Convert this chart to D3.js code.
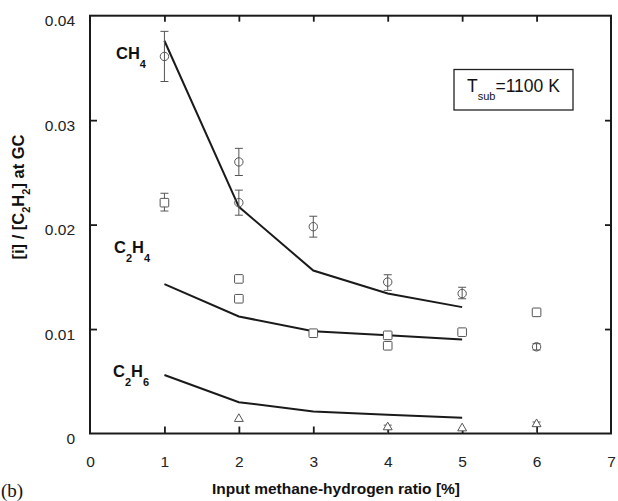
<!DOCTYPE html>
<html>
<head>
<meta charset="utf-8">
<script src="https://cdn.jsdelivr.net/npm/d3@7"></script>
<style>
  html, body { margin: 0; padding: 0; background: #fff; }
  svg { display: block; font-family: Arial, "Liberation Sans", Helvetica, sans-serif; }
</style>
</head>
<body>
<svg id="chart" width="618" height="501"></svg>
<script>
// Model curves (solid lines) at each input ratio
const modelX = [1, 2, 3, 4, 5];
const ch4Model  = [0.0376, 0.0217, 0.0156, 0.0134, 0.0121];
const c2h4Model = [0.0143, 0.0112, 0.0098, 0.0094, 0.0090];
const c2h6Model = [0.0056, 0.0030, 0.0021, 0.0018, 0.0015];

// Measured values with error ranges [x, value, low, high]
const ch4Measured = [
  [1, 0.0361, 0.0337, 0.0385],
  [2, 0.0260, 0.0247, 0.0273],
  [2, 0.0221, 0.0209, 0.0233],
  [3, 0.0198, 0.0188, 0.0208],
  [4, 0.0145, 0.0137, 0.0152],
  [5, 0.0134, 0.0129, 0.0140],
  [6, 0.0083, 0.0080, 0.0086]
];
const c2h4Measured = [
  [1, 0.0221, 0.0213, 0.0230],
  [2, 0.0148, null, null],
  [2, 0.0129, null, null],
  [3, 0.0096, null, null],
  [4, 0.0094, null, null],
  [4, 0.0084, null, null],
  [5, 0.0097, null, null],
  [6, 0.0116, null, null]
];
const c2h6Measured = [
  [2, 0.0014, null, null],
  [4, 0.0006, 0.0000, 0.0008],
  [5, 0.0005, null, null],
  [6, 0.0009, 0.0000, 0.0011]
];

const xTicks = [0, 1, 2, 3, 4, 5, 6, 7];
const yTicks = [0, 0.01, 0.02, 0.03, 0.04];

const svg = d3.select("#chart");
const x = d3.scaleLinear().domain([0, 7]).range([90, 611]);
const y = d3.scaleLinear().domain([0, 0.04]).range([433.5, 15.7]);

const ink = "#1a1a1a";
const markInk = "#555";

// Axes with inward ticks on all four sides
const axisB = svg.append("g").attr("transform", `translate(0,${y(0)})`)
  .call(d3.axisBottom(x).tickValues(xTicks).tickSizeInner(-7).tickSizeOuter(0).tickPadding(22)
        .tickFormat(d3.format("d")));
const axisL = svg.append("g").attr("transform", `translate(${x(0)},0)`)
  .call(d3.axisLeft(y).tickValues(yTicks).tickSizeInner(-7).tickSizeOuter(0).tickPadding(15)
        .tickFormat(d => d === 0 ? "0" : d3.format(".2f")(d)));
const axisT = svg.append("g").attr("transform", `translate(0,${y(0.04)})`)
  .call(d3.axisTop(x).tickValues(xTicks.slice(1, -1)).tickSizeInner(-6).tickSizeOuter(0).tickFormat(""));
const axisR = svg.append("g").attr("transform", `translate(${x(7)},0)`)
  .call(d3.axisRight(y).tickValues(yTicks.slice(1, -1)).tickSizeInner(-6).tickSizeOuter(0).tickFormat(""));

[axisB, axisL, axisT, axisR].forEach(g => {
  g.select(".domain").remove();
  g.selectAll(".tick line").attr("stroke", ink).attr("stroke-width", 1.8);
  g.selectAll(".tick text").attr("fill", "#222").style("font-size", "15.5px")
    .style("font-family", 'Arial, "Liberation Sans", sans-serif');
});
axisB.selectAll(".tick").filter(d => d === 0 || d === 7).select("line").remove();
axisL.selectAll(".tick").filter(d => d === 0 || d === 0.04).select("line").remove();
axisL.selectAll(".tick text").attr("transform", "translate(0,5)");

// Plot frame
svg.append("rect")
  .attr("x", x(0)).attr("y", y(0.04))
  .attr("width", x(7) - x(0)).attr("height", y(0) - y(0.04))
  .attr("fill", "none").attr("stroke", ink).attr("stroke-width", 2);

// Model lines
const line = d3.line().x(d => x(d[0])).y(d => y(d[1]));
[ch4Model, c2h4Model, c2h6Model].forEach(vals => {
  svg.append("path")
    .datum(modelX.map((v, i) => [v, vals[i]]))
    .attr("d", line)
    .attr("fill", "none").attr("stroke", ink).attr("stroke-width", 2);
});

// Error bars
function errorBars(data) {
  const g = svg.append("g").attr("stroke", markInk).attr("stroke-width", 1).attr("fill", "none");
  data.filter(d => d[2] !== null).forEach(d => {
    const cx = x(d[0]);
    g.append("line").attr("x1", cx).attr("x2", cx).attr("y1", y(d[2])).attr("y2", y(d[3]));
    if (d[2] > 0) g.append("line").attr("x1", cx - 4).attr("x2", cx + 4).attr("y1", y(d[2])).attr("y2", y(d[2]));
    g.append("line").attr("x1", cx - 4).attr("x2", cx + 4).attr("y1", y(d[3])).attr("y2", y(d[3]));
  });
}
errorBars(ch4Measured);
errorBars(c2h4Measured);
errorBars(c2h6Measured);

// Markers: circles for CH4, squares for C2H4, triangles for C2H6
svg.append("g").selectAll("circle").data(ch4Measured).join("circle")
  .attr("cx", d => x(d[0])).attr("cy", d => y(d[1])).attr("r", 4.2)
  .attr("fill", "none").attr("stroke", markInk).attr("stroke-width", 1);

svg.append("g").selectAll("rect").data(c2h4Measured).join("rect")
  .attr("x", d => x(d[0]) - 4.3).attr("y", d => y(d[1]) - 4.3)
  .attr("width", 8.6).attr("height", 8.6).attr("rx", 0.8)
  .attr("fill", "#fff").attr("stroke", markInk).attr("stroke-width", 1);

const tri = d3.symbol().type(d3.symbolTriangle).size(34);
svg.append("g").selectAll("path").data(c2h6Measured).join("path")
  .attr("transform", d => `translate(${x(d[0])},${y(d[1])})`)
  .attr("d", tri)
  .attr("fill", "#fff").attr("stroke", markInk).attr("stroke-width", 1);

// Species labels
function species(xp, yp, parts) {
  const t = svg.append("text").attr("x", xp).attr("y", yp)
    .attr("fill", "#111").style("font-weight", "bold");
  let shifted = false;
  parts.forEach(([s, sub]) => {
    const dy = sub && !shifted ? 9 : (!sub && shifted ? -9 : 0);
    shifted = sub;
    t.append("tspan").attr("dy", dy).attr("fill", "#111")
      .style("font-size", sub ? "11px" : "16.5px").text(s);
  });
}
species(116, 59, [["CH", false], ["4", true]]);
species(114, 253, [["C", false], ["2", true], ["H", false], ["4", true]]);
species(113, 377, [["C", false], ["2", true], ["H", false], ["6", true]]);

// Substrate temperature box
svg.append("rect").attr("x", 454).attr("y", 69.5).attr("width", 119).attr("height", 40.5)
  .attr("fill", "#fff").attr("stroke", "#222").attr("stroke-width", 1.3);
const tb = svg.append("text").attr("x", 467).attr("y", 92).attr("fill", "#111");
tb.append("tspan").attr("fill", "#111").style("font-size", "17.5px").text("T");
tb.append("tspan").attr("dy", 8).attr("fill", "#111").style("font-size", "11px").text("sub");
tb.append("tspan").attr("dy", -8).attr("fill", "#111").style("font-size", "17.5px").text("=1100 K");

// Axis titles
svg.append("text")
  .attr("x", 336).attr("y", 494).attr("text-anchor", "middle")
  .attr("fill", "#111").style("font-size", "15.5px").style("font-weight", "bold")
  .text("Input methane-hydrogen ratio [%]");

const yt = svg.append("text")
  .attr("transform", "translate(24,197) rotate(-90)")
  .attr("text-anchor", "middle").attr("fill", "#111")
  .style("font-size", "16.5px").style("font-weight", "bold");
yt.append("tspan").text("[i] / [C");
yt.append("tspan").attr("dy", 6).style("font-size", "11px").text("2");
yt.append("tspan").attr("dy", -6).text("H");
yt.append("tspan").attr("dy", 6).style("font-size", "11px").text("2");
yt.append("tspan").attr("dy", -6).text("] at GC");

// Panel tag
svg.append("text").attr("x", 1).attr("y", 497)
  .style("font-family", '"Liberation Serif", "DejaVu Serif", serif')
  .style("font-size", "19px").attr("fill", "#111").text("(b)");
</script>
</body>
</html>
